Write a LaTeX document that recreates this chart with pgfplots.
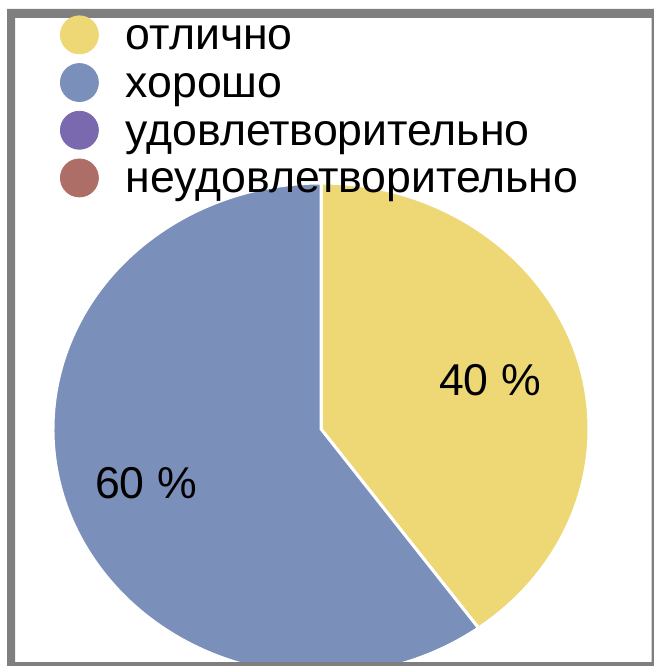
\documentclass[border=0pt]{standalone}
\usepackage{fontspec}
\setmainfont{Liberation Sans}
\usepackage{pgfplots}
\usepackage{pgfplotstable}
\pgfplotsset{compat=1.18}
\definecolor{cYel}{HTML}{EDD875}
\definecolor{cBlu}{HTML}{7A8FBA}
\definecolor{cPur}{HTML}{7A69AE}
\definecolor{cRed}{HTML}{AE6E68}
\definecolor{cFrame}{HTML}{7F7F7F}

\pgfplotstableread{
idx value
0 40
1 60
2 0
3 0
}\piedata

\begin{document}
\begin{tikzpicture}
\pgfplotstablegetelem{0}{value}\of\piedata \edef\va{\pgfplotsretval}
\pgfplotstablegetelem{1}{value}\of\piedata \edef\vb{\pgfplotsretval}
\pgfmathsetmacro\aS{90}
\pgfmathsetmacro\aA{90-3.6*\va}
\pgfmathsetmacro\aB{\aA-3.6*\vb}
\pgfmathsetmacro\xS{134*cos(\aS)}\pgfmathsetmacro\yS{123*sin(\aS)}
\pgfmathsetmacro\xA{134*cos(\aA)}\pgfmathsetmacro\yA{123*sin(\aA)}
\begin{axis}[
  x=0.5pt, y=0.5pt, xmin=0, xmax=654, ymin=0, ymax=666,
  axis lines=none, ticks=none, clip=false,
  scale only axis,
  legend style={at={(axis cs:60,655)}, anchor=north west, draw=none, fill=none,
    font=\fontsize{22.3}{24}\selectfont, inner sep=0pt, outer sep=0pt, row sep=0pt, column sep=13.5pt,
    nodes={inner sep=0pt, text height=19.4pt, text depth=4.45pt}},
  legend cell align=left,
  legend image code/.code={\fill[#1] (0pt,0pt) circle (9.5pt);},
]
\fill[white] (axis cs:0,0) rectangle (axis cs:654,666);
% pie slices
\fill[cYel, draw=white, line width=1.5pt] (axis cs:321,237) -- ++(\xS pt,\yS pt)
   arc[start angle=\aS, end angle=\aA, x radius=134pt, y radius=123pt] -- cycle;
\fill[cBlu, draw=white, line width=1.5pt] (axis cs:321,237) -- ++(\xA pt,\yA pt)
   arc[start angle=\aA, end angle=\aB, x radius=134pt, y radius=123pt] -- cycle;
\node[font=\fontsize{22.3}{24}\selectfont] at (axis cs:490,286) {\va\ \%};
\node[font=\fontsize{22.3}{24}\selectfont] at (axis cs:146,183) {\vb\ \%};
% frame
\fill[cFrame, even odd rule] (axis cs:7,0) rectangle (axis cs:654,657)
   (axis cs:15,4) rectangle (axis cs:651.5,648);
\addlegendimage{cYel}\addlegendentry{отлично}
\addlegendimage{cBlu}\addlegendentry{хорошо}
\addlegendimage{cPur}\addlegendentry{удовлетворительно}
\addlegendimage{cRed}\addlegendentry{неудовлетворительно}
\end{axis}
\pgfresetboundingbox
\useasboundingbox (0,0) rectangle (327pt,333pt);
\end{tikzpicture}
\end{document}
